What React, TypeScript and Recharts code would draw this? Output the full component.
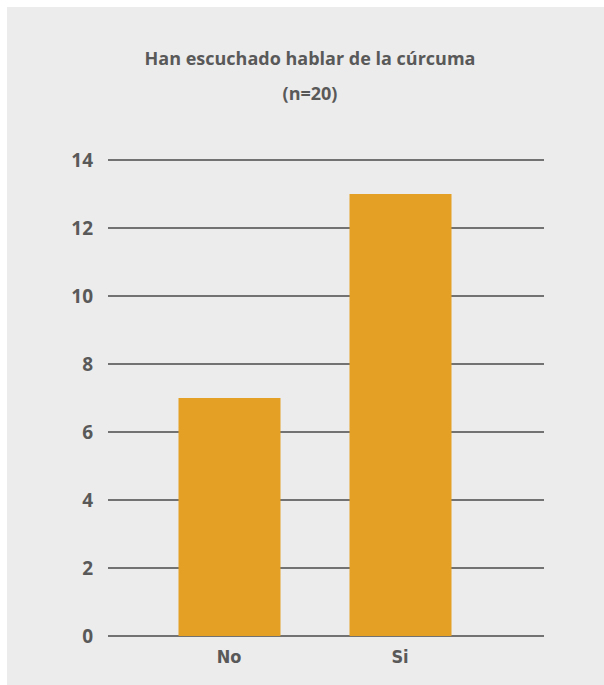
import { BarChart, Bar, XAxis, YAxis, CartesianGrid } from 'recharts'

const categories = ['No', 'Si']
const counts = [7, 13]
const yTicks = [0, 2, 4, 6, 8, 10, 12, 14]

const chartData = categories.map((name, i) => ({ name, count: counts[i] }))

const textColor = '#595959'

export default function App() {
  return (
    <div
      style={{
        position: 'absolute',
        left: 7,
        top: 7,
        width: 597,
        height: 678,
        background: '#ececec',
        fontFamily: '"Open Sans", sans-serif',
        color: textColor,
      }}
    >
      <div
        style={{
          position: 'absolute',
          left: 0,
          width: 606,
          top: 37,
          textAlign: 'center',
          fontSize: 18,
          fontWeight: 700,
          lineHeight: '28px',
        }}
      >
        Han escuchado hablar de la cúrcuma
        <div style={{ marginTop: 7 }}>(n=20)</div>
      </div>
      <BarChart
        width={597}
        height={678}
        data={chartData}
        margin={{ top: 153, right: 60, bottom: 9, left: 41 }}
      >
        <CartesianGrid vertical={false} stroke="#4a4a4a" strokeWidth={1.5} />
        <XAxis
          dataKey="name"
          axisLine={false}
          tickLine={false}
          tickSize={0}
          tickMargin={14}
          height={40}
          padding={{ left: 35.5, right: 58.5 }}
          tick={{
            fill: textColor,
            fontSize: 18,
            fontWeight: 700,
            fontFamily: '"Liberation Sans Narrow", "DejaVu Sans Condensed", sans-serif',
          }}
        />
        <YAxis
          domain={[0, 14]}
          ticks={yTicks}
          axisLine={false}
          tickLine={false}
          tickSize={0}
          tickMargin={15}
          width={60}
          tick={{ fill: textColor, fontSize: 19, fontWeight: 700, fontFamily: '"Open Sans", sans-serif' }}
        />
        <Bar dataKey="count" fill="#e3a024" barSize={102} isAnimationActive={false} />
      </BarChart>
    </div>
  )
}
